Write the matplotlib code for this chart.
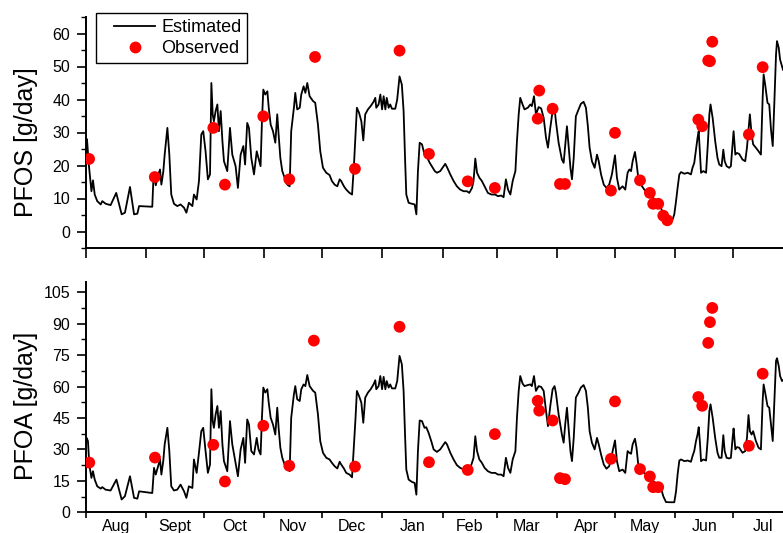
import matplotlib
matplotlib.use("Agg")
import matplotlib.pyplot as plt
from matplotlib.ticker import MultipleLocator, FixedLocator
from matplotlib.lines import Line2D
from matplotlib.legend_handler import HandlerLine2D

plt.rcParams['font.family'] = ['Liberation Sans', 'DejaVu Sans']

# ---- data (x = days since 1 Aug) ----
month_names = ["Aug", "Sept", "Oct", "Nov", "Dec", "Jan", "Feb", "Mar", "Apr", "May", "Jun", "Jul"]
month_starts = [0, 31, 61, 92, 122, 153, 184, 212, 243, 273, 304, 334, 365]

pfos_day = [0, 0.5, 1.5, 2.8, 3.6, 4.5, 5.8, 7.6, 8.4, 10.2, 12.7, 15.6, 18.4, 20.1, 22.7, 24.8, 26.5, 27.4, 34.2, 34.7,
            35.1, 36.0, 37.2, 38.2, 38.9, 39.9, 40.6, 42.0, 43.0, 44.0, 45.4, 47.1, 48.8, 50.6, 51.8, 53.1, 54.9, 55.7, 57.1, 58.3,
            59.5, 60.5, 61.7, 62.9, 64.0, 64.7, 65.4, 66.0, 66.9, 67.8, 68.6, 69.5, 70.4, 71.2, 72.9, 74.3, 75.5, 77.2, 78.4, 79.8,
            81.2, 82.1, 83.2, 84.1, 85.3, 86.7, 88.1, 90.1, 90.8, 91.5, 92.5, 93.6, 94.3, 95.3, 96.5, 97.7, 98.7, 99.4, 100.3, 101.3,
            102.5, 103.9, 105.1, 105.9, 107.3, 108.0, 109.0, 110.3, 111.1, 112.3, 113.2, 114.2, 115.4, 117.2, 118.3, 119.7, 120.9, 122.3, 124.0, 125.7,
            126.9, 128.3, 129.7, 130.9, 131.7, 133.1, 134.3, 136.0, 137.3, 138.3, 139.1, 139.8, 140.9, 142.1, 143.1, 144.1, 145.5, 146.9, 148.4, 149.3,
            149.8, 151.0, 151.9, 152.8, 153.6, 154.5, 155.2, 156.2, 157.0, 157.9, 159.6, 160.6, 161.8, 163.0, 163.9, 164.7, 165.3, 166.5, 168.2, 169.6,
            170.5, 171.3, 172.2, 173.4, 174.7, 175.7, 177.4, 180.0, 181.1, 182.8, 184.6, 185.4, 186.3, 188.0, 189.7, 191.4, 193.1, 194.9, 196.6, 197.8,
            199.2, 200.0, 200.9, 201.8, 203.0, 204.3, 205.7, 207.4, 209.2, 211.2, 212.6, 214.3, 215.5, 216.7, 217.8, 219.0, 220.2, 221.6, 222.4, 223.3,
            224.1, 225.3, 226.3, 228.0, 229.3, 230.1, 231.2, 232.2, 233.6, 234.9, 236.2, 237.4, 238.4, 239.6, 240.8, 241.8, 242.5, 243.9, 245.6, 246.5,
            247.3, 248.2, 249.1, 250.0, 250.8, 251.7, 252.8, 254.2, 255.4, 256.8, 258.0, 259.0, 259.9, 261.1, 262.5, 263.7, 264.6, 265.8, 267.2, 268.6,
            270.0, 271.4, 273.0, 274.0, 275.2, 276.9, 278.3, 279.5, 280.4, 281.3, 282.1, 283.3, 284.1, 285.0, 286.4, 288.1, 289.8, 291.5, 293.3, 295.0,
            295.8, 296.7, 297.9, 299.3, 301.0, 302.7, 303.6, 304.5, 305.3, 306.2, 307.1, 308.8, 310.5, 312.2, 313.0, 313.9, 314.8, 315.6, 316.2, 316.9,
            317.4, 318.6, 320.0, 320.9, 321.7, 322.3, 323.4, 324.7, 325.9, 326.8, 328.0, 328.9, 329.6, 330.6, 331.9, 332.8, 333.7, 334.2, 335.1, 335.9,
            337.1, 338.8, 340.2, 341.1, 341.9, 342.6, 343.5, 344.3, 345.7, 347.1, 348.3, 349.2, 349.7, 350.5, 351.7, 352.6, 353.5, 354.4, 355.2, 356.1,
            356.6, 357.5, 358.2, 359.2, 359.7]
pfos_est = [26, 28, 20, 12.2, 15.5, 11.2, 9.2, 8.2, 9.2, 8.4, 8.0, 11.7, 5.2, 5.7, 13.5, 5.2, 5.4, 7.7, 7.5, 14.7,
            17, 14, 17, 18.8, 14.2, 18.2, 23.3, 31.4, 23.3, 11.2, 8.4, 7.7, 8.2, 7.2, 5.7, 8.7, 7.7, 11.2, 9.7, 15.3,
            29.4, 30.4, 24.3, 15.8, 17.3, 45, 35.4, 33.4, 36.5, 38.5, 30.4, 36.5, 27.4, 21.3, 18.3, 31.4, 23.3, 19.8, 13.2, 23.3,
            25.9, 20.3, 32.9, 31.4, 22.3, 17.3, 24.3, 19.8, 33.4, 43, 41.5, 42.5, 37.5, 32.4, 30.4, 26.9, 35.5, 29.4, 22.3, 18.3,
            16.3, 14.2, 13.7, 30.4, 37.5, 42, 37, 37.5, 41.5, 44, 42, 45, 41, 39.5, 39, 32.4, 24.3, 19.3, 17.8, 17.1,
            15.3, 14.2, 13.7, 15.8, 15.3, 13.7, 12.7, 11.7, 11.2, 20.3, 29.4, 37.5, 36, 33.4, 27.6, 35.5, 37, 38, 39.3, 40.5,
            37.5, 38.5, 41.5, 37, 41, 37, 40.5, 37.5, 38.5, 37.2, 37.2, 40, 47, 44.5, 36.5, 21.3, 11.2, 8.7, 8.4, 8.2,
            5.2, 18.3, 26.9, 26.4, 23.3, 22.8, 20.8, 18.3, 17.8, 18.3, 19.8, 20.5, 19.5, 17.3, 15.3, 13.7, 12.7, 12.2, 12.2, 11.7,
            13.2, 15.3, 22.1, 17.8, 16.3, 15.3, 13.7, 11.7, 11.2, 11.2, 10.7, 10.9, 10.4, 15.8, 12.7, 11.2, 15.3, 18.3, 27.4, 35.5,
            40.5, 38.5, 37, 37.5, 38.5, 38, 41, 35.5, 37.7, 37.3, 34.4, 28.4, 25.4, 31.4, 36.5, 37.5, 33.4, 26.9, 21.8, 20.8,
            25.9, 31.9, 25.4, 19.3, 15.8, 22.3, 34.9, 37, 38.7, 39.3, 37.5, 31.9, 25.4, 21.3, 19.3, 23.3, 21.3, 17.3, 14.2, 13.2,
            14.2, 17.3, 23.1, 16.3, 12.7, 13.7, 12.7, 17.8, 18.8, 18.3, 21.3, 24.1, 20.8, 16.3, 14.2, 12.7, 11.7, 10.7, 9.9, 9.2,
            9.2, 7.2, 5.2, 4.1, 3.6, 3.6, 5.2, 9.2, 13.2, 17.3, 18, 17.5, 17.8, 17.3, 19.3, 20.8, 24.8, 28.4, 30.4, 23.3,
            17.8, 18.3, 17.8, 26.4, 35.5, 38.5, 34.4, 27.4, 22.3, 20.3, 19.8, 24.8, 21.3, 19.8, 19.3, 19.8, 26.4, 30.4, 23.3, 23.8,
            23.5, 21.8, 21.3, 25.4, 30.9, 35.5, 29.4, 26.4, 25.4, 24.3, 23.3, 40.5, 47.6, 44.5, 39, 38.5, 30.9, 25.9, 38.5, 53.6,
            57.7, 55.7, 52.1, 50, 49]

pfos_obs_day = [1.6, 35.5, 65.7, 71.7, 91.5, 104.9, 118.2, 138.8, 161.8, 177, 197, 211, 233.1, 233.9, 240.8, 244.6, 247.2,
                270.9, 273, 285.9, 291, 292.7, 295.3, 297.9, 300, 316, 318, 321.1, 322, 323.2, 342.1, 349.2]
pfos_obs = [22, 16.5, 31.4, 14.2, 34.9, 15.8, 52.9, 19, 54.8, 23.5, 15.2, 13.2, 34.2, 42.7, 37.2, 14.4, 14.4,
            12.4, 29.9, 15.5, 11.7, 8.4, 8.4, 4.8, 3.4, 33.9, 31.9, 51.8, 51.6, 57.5, 29.4, 49.8]

pfoa_day = [0, 0.3, 1.0, 1.7, 2.8, 3.6, 4.5, 5.8, 7.6, 8.4, 10.1, 12.7, 15.7, 18.4, 20.1, 22.7, 24.8, 26.5, 27.4, 34.2,
            35.1, 36.0, 37.2, 38.2, 38.9, 39.9, 40.6, 42.0, 43.0, 44.0, 45.4, 47.1, 48.8, 50.6, 51.8, 53.1, 54.9, 55.7, 57.1, 58.3,
            59.5, 60.5, 61.7, 62.9, 64.0, 64.7, 65.4, 66.0, 66.9, 67.8, 68.6, 69.5, 70.4, 71.2, 72.9, 74.3, 75.5, 77.2, 78.4, 79.8,
            81.2, 82.1, 83.2, 84.1, 85.3, 86.7, 88.1, 89.0, 90.1, 90.8, 91.5, 92.5, 93.6, 94.3, 95.3, 96.5, 97.7, 98.7, 99.4, 100.3,
            101.3, 102.5, 103.9, 105.1, 105.9, 107.3, 108.0, 109.0, 110.3, 111.1, 112.3, 113.2, 114.2, 115.4, 117.2, 118.3, 119.7, 120.9, 122.3, 124.0,
            125.7, 126.9, 128.3, 129.7, 130.9, 131.7, 133.1, 134.3, 136.0, 137.3, 138.3, 139.1, 139.8, 140.9, 142.1, 143.1, 144.1, 145.5, 146.9, 148.4,
            149.3, 149.8, 151.0, 151.9, 152.8, 153.6, 154.5, 155.2, 156.2, 157.0, 157.9, 159.6, 160.6, 161.8, 163.0, 163.9, 164.7, 165.3, 166.5, 168.2,
            169.6, 170.5, 171.3, 172.2, 173.4, 174.7, 175.6, 176.8, 178.2, 179.4, 181.1, 182.8, 184.6, 185.4, 186.3, 188.0, 189.7, 191.4, 193.1, 194.9,
            196.6, 197.8, 199.2, 200.0, 200.9, 201.8, 203.0, 204.3, 205.7, 207.4, 209.2, 211.2, 212.6, 214.3, 215.5, 216.7, 217.8, 219.0, 220.2, 221.6,
            222.4, 223.3, 224.1, 225.3, 226.3, 228.0, 229.3, 230.1, 231.2, 232.2, 233.6, 234.9, 236.2, 237.4, 238.4, 239.6, 240.8, 241.8, 242.5, 243.9,
            245.6, 246.5, 247.3, 248.2, 249.1, 250.0, 250.8, 251.7, 252.8, 254.2, 255.4, 256.8, 258.0, 259.0, 259.9, 261.1, 262.5, 263.7, 264.6, 265.8,
            267.2, 268.6, 270.0, 271.4, 273.0, 274.0, 275.2, 276.9, 278.3, 279.5, 280.4, 281.3, 282.1, 283.3, 284.1, 285.0, 286.4, 288.1, 289.8, 291.5,
            293.3, 295.0, 296.7, 297.9, 299.3, 301.0, 303.6, 304.5, 305.3, 306.2, 307.1, 308.8, 310.5, 312.2, 313.0, 313.9, 314.8, 315.6, 316.2, 316.9,
            317.4, 318.6, 320.0, 320.9, 321.7, 322.3, 323.4, 324.7, 325.9, 326.8, 328.0, 328.9, 329.6, 330.6, 331.9, 332.8, 333.7, 334.2, 335.1, 335.9,
            337.1, 338.8, 340.2, 341.1, 341.9, 342.6, 343.5, 344.3, 345.7, 347.1, 348.3, 349.2, 349.7, 350.5, 351.7, 352.6, 353.5, 354.4, 355.2, 356.1,
            356.6, 357.5, 358.2, 359.2, 359.7]
pfoa_est = [33, 35.5, 34, 22.8, 16.4, 19.6, 15.6, 12.4, 11.3, 12, 10.8, 10.4, 15.6, 6.1, 7.7, 17.2, 6.9, 6.5, 10, 9.2,
            21.2, 18, 22, 25.2, 18, 24.7, 32.4, 40.3, 29.2, 12.4, 10.4, 10.8, 13.2, 10, 6.9, 12.4, 11.6, 25.2, 18.8, 28.4,
            38.7, 40.3, 29.2, 18.8, 22.8, 58.7, 43.5, 40.3, 46.7, 50.7, 40.3, 48.3, 32.4, 24.4, 19.6, 43.5, 32.4, 23.6, 17.2, 30,
            35.5, 23.6, 44.3, 41.9, 29.2, 27.6, 35.5, 30, 27.6, 45.1, 59.5, 57.1, 58.7, 52.3, 45.1, 41.9, 37.1, 49.9, 40.3, 30.8,
            26, 22.8, 22, 19.6, 45.1, 56.3, 60.2, 53.9, 53.1, 58.7, 61, 60.2, 65.5, 60.2, 57.9, 57.1, 46.7, 33.9, 28.4, 26,
            25.2, 23.6, 22, 20.9, 24.1, 22.8, 20.9, 18.8, 18, 16.7, 32.4, 45.1, 57.9, 55.5, 52.3, 42.7, 54.7, 57.1, 58.7, 61,
            63, 58.7, 60.2, 65, 58.7, 64.6, 58.7, 62.6, 59.5, 61, 59.1, 59.1, 62.6, 74.6, 70.6, 57.9, 35.5, 20.4, 15.6, 14.5,
            14, 8.4, 29.2, 43.8, 43.5, 40.3, 40.6, 37.9, 33.9, 30, 28.8, 30, 32.4, 33.5, 32.4, 28.4, 25.2, 22.5, 21.2, 20.4,
            20.4, 19.9, 23.6, 26, 36.3, 29.2, 25.2, 23.6, 21.2, 19.6, 18.8, 18.8, 18, 18, 17.2, 26, 21.2, 18.8, 25.2, 29.2,
            45.1, 57.9, 65, 61.4, 60.2, 60.7, 61, 60.2, 65, 57.9, 60.2, 59.8, 57.9, 48.3, 41.1, 50.7, 58.7, 60.2, 57.1, 46.7,
            37.1, 33.2, 41.9, 49.9, 39.5, 29.2, 24.4, 35.5, 54.7, 57.1, 59.5, 60.7, 57.9, 49.9, 38.7, 33.2, 30, 35.5, 32.4, 27.6,
            22.8, 20.8, 22, 27.6, 34.3, 24.4, 19.6, 20.4, 18.8, 29.2, 28.4, 27.9, 32.4, 35.1, 30.8, 22.8, 20.4, 18.8, 17.2, 15.6,
            14.5, 13.5, 11.6, 7.7, 4.9, 4.8, 4.8, 10, 18, 24.7, 25.2, 24.4, 24.7, 24.1, 26.8, 29.2, 34, 37.1, 40.6, 32.4,
            24.4, 25.2, 24.7, 35.5, 48.3, 51.5, 45.1, 35.5, 28.4, 26, 26, 36.8, 29.2, 26, 25.7, 26, 35.5, 40, 30, 31.1,
            30.8, 28.4, 29.2, 35.5, 46.4, 38.7, 37.1, 38.7, 34, 30.8, 30, 53.1, 61, 57.1, 50.7, 49.9, 41.9, 34, 51.5, 72.2,
            73.5, 69.8, 65, 62.6, 63]

pfoa_obs_day = [1.7, 35.6, 65.7, 71.7, 91.5, 104.9, 117.6, 138.8, 161.8, 177, 197, 211, 233.1, 233.9, 240.8, 244.6, 247.2,
                270.9, 273, 285.9, 291, 292.7, 295.3, 316, 318, 321.1, 322, 323.2, 342.1, 349.2]
pfoa_obs = [23.7, 26.1, 32.2, 14.7, 41.3, 22.2, 81.9, 21.8, 88.5, 23.9, 20.2, 37.3, 53.2, 48.5, 43.8, 16.3, 15.8,
            25.5, 52.9, 20.6, 17.1, 12.0, 12.0, 55.0, 50.8, 80.8, 90.7, 97.5, 31.7, 66.1]

# ---- figure ----
W, H = 783, 533
fig = plt.figure(figsize=(W / 100, H / 100), dpi=100)

x0 = 86 / W
xw = 697 / W
ax1 = fig.add_axes([x0, 1 - 248 / H, xw, (248 - 17) / H])
ax2 = fig.add_axes([x0, 1 - 512.3 / H, xw, (512.3 - 281.7) / H])

mids = [(month_starts[i] + month_starts[i + 1]) / 2 for i in range(12)]

for ax, d, v, od, ov, ylim, major, minor, lab in [
    (ax1, pfos_day, pfos_est, pfos_obs_day, pfos_obs, (-5, 65), 10, 5, "PFOS [g/day]"),
    (ax2, pfoa_day, pfoa_est, pfoa_obs_day, pfoa_obs, (0, 110), 15, 7.5, "PFOA [g/day]"),
]:
    ax.plot(d, v, color='black', lw=1.3, zorder=2)
    ax.scatter(od, ov, s=72, color='#ff0000', edgecolors='none', zorder=3)
    ax.set_xlim(0, 359.7)
    ax.set_ylim(*ylim)
    ax.yaxis.set_major_locator(MultipleLocator(major))
    ax.yaxis.set_minor_locator(MultipleLocator(minor))
    ax.spines['top'].set_visible(False)
    ax.spines['right'].set_visible(False)
    for s in ('left', 'bottom'):
        ax.spines[s].set_linewidth(1.4)
    ax.tick_params(axis='y', which='major', direction='out', length=6.5, width=1.2, labelsize=11.5, pad=5)
    ax.tick_params(axis='y', which='minor', direction='out', length=3.3, width=1.0)
    ax.set_ylabel(lab, fontsize=18)
    ax.xaxis.set_major_locator(FixedLocator(month_starts))

ax1.set_yticks(list(range(0, 61, 10)))
ax2.set_yticks(list(range(0, 106, 15)))
ax1.yaxis.set_label_coords(-0.069, 0.457)
ax2.yaxis.set_label_coords(-0.069, 0.462)

ax1.tick_params(axis='x', which='major', direction='out', length=7, width=1.2, labelbottom=False)
ax1.xaxis.set_minor_locator(FixedLocator([]))
ax2.tick_params(axis='x', which='major', direction='out', length=4.5, width=1.2, labelbottom=False)
ax2.set_xticks(mids, minor=True)
ax2.set_xticklabels(month_names, minor=True)
ax2.tick_params(axis='x', which='minor', length=0, labelsize=11.5, pad=5)

handles = [Line2D([], [], color='black', lw=1.3),
           Line2D([], [], color='#ff0000', marker='o', ls='none', markersize=8.5, markeredgewidth=0)]
leg = ax1.legend(handles, ["Estimated", "Observed"], loc='upper left',
                 bbox_to_anchor=(96 / W, 1 - 13 / H), bbox_transform=fig.transFigure,
                 handler_map={Line2D: HandlerLine2D(xpad=0.66)},
                 fontsize=13, frameon=True, fancybox=False, edgecolor='black', framealpha=1,
                 borderaxespad=0, borderpad=0.33, handlelength=2.95, handletextpad=0.33, labelspacing=0.22)
leg.get_frame().set_linewidth(1.0)

fig.savefig("out.png", dpi=100)
